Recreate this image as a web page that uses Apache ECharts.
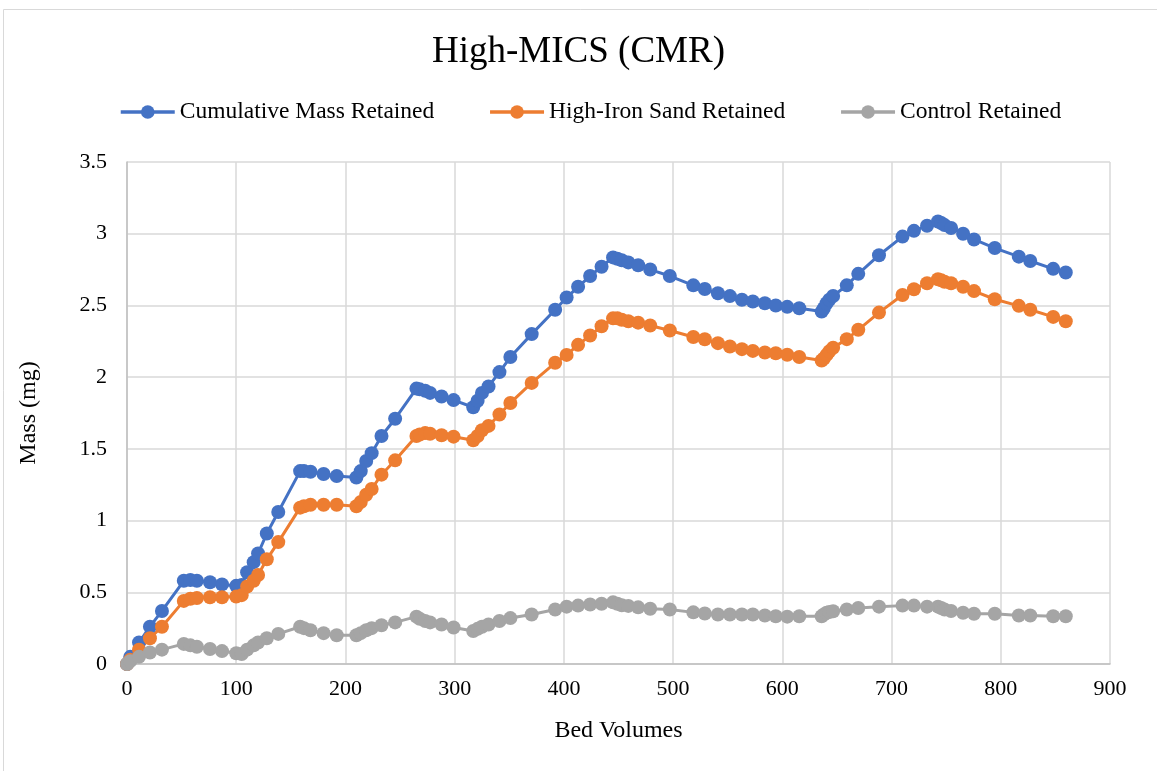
<!DOCTYPE html>
<html>
<head>
<meta charset="utf-8">
<title>High-MICS (CMR)</title>
<script src="https://cdn.jsdelivr.net/npm/echarts@6/dist/echarts.min.js"></script>
<style>
  html, body { margin: 0; padding: 0; background: #ffffff; }
  #chart { width: 1157px; height: 771px; }
</style>
</head>
<body>
<div id="chart"></div>
<script>
// Bed volumes at which each sample was taken
const bedVolumes = [0, 3, 11, 21, 32, 52, 58, 64, 76, 87, 100, 105, 110, 116, 120, 128, 138.5, 158.5, 162, 168, 180, 192, 210, 214, 219, 224, 233, 245.5, 265, 268, 273, 277.5, 288, 299, 317, 321, 325, 331, 341, 351, 370.5, 392, 402.5, 413, 424, 434.5, 445, 449, 453, 459, 468, 479, 497, 518.5, 529, 541, 552, 563, 573, 584, 594, 604.5, 615.5, 636, 638, 640.5, 643, 646.5, 659, 669.5, 688.5, 710, 720.5, 732.5, 742.5, 745.5, 748.5, 754.5, 765.5, 775.5, 794.5, 816.5, 827, 848, 859.5];

// Mass retained (mg)
const cumulativeMass = [0, 0.05, 0.15, 0.26, 0.37, 0.58, 0.585, 0.58, 0.57, 0.555, 0.545, 0.55, 0.64, 0.71, 0.77, 0.91, 1.06, 1.345, 1.345, 1.34, 1.325, 1.31, 1.30, 1.345, 1.415, 1.47, 1.59, 1.71, 1.92, 1.915, 1.905, 1.89, 1.865, 1.84, 1.79, 1.835, 1.89, 1.935, 2.035, 2.14, 2.30, 2.47, 2.555, 2.63, 2.705, 2.77, 2.835, 2.825, 2.815, 2.80, 2.78, 2.75, 2.705, 2.64, 2.615, 2.585, 2.565, 2.54, 2.527, 2.515, 2.50, 2.49, 2.48, 2.457, 2.48, 2.515, 2.54, 2.566, 2.64, 2.72, 2.85, 2.98, 3.02, 3.056, 3.085, 3.075, 3.06, 3.04, 3.00, 2.96, 2.90, 2.84, 2.81, 2.755, 2.73];

const highIronSand = [0, 0.03, 0.10, 0.18, 0.26, 0.44, 0.455, 0.46, 0.465, 0.465, 0.47, 0.48, 0.54, 0.58, 0.62, 0.73, 0.85, 1.09, 1.10, 1.11, 1.11, 1.11, 1.10, 1.13, 1.18, 1.22, 1.32, 1.42, 1.59, 1.60, 1.61, 1.605, 1.595, 1.585, 1.56, 1.59, 1.63, 1.66, 1.74, 1.82, 1.96, 2.10, 2.155, 2.225, 2.29, 2.355, 2.41, 2.41, 2.40, 2.39, 2.38, 2.36, 2.325, 2.28, 2.264, 2.237, 2.214, 2.195, 2.183, 2.172, 2.167, 2.156, 2.14, 2.116, 2.13, 2.155, 2.18, 2.205, 2.265, 2.33, 2.45, 2.573, 2.613, 2.655, 2.683, 2.675, 2.665, 2.655, 2.63, 2.60, 2.543, 2.497, 2.47, 2.42, 2.39];

const control = [0, 0.02, 0.05, 0.08, 0.10, 0.14, 0.13, 0.12, 0.105, 0.09, 0.075, 0.07, 0.10, 0.13, 0.15, 0.18, 0.21, 0.26, 0.25, 0.235, 0.215, 0.20, 0.20, 0.215, 0.235, 0.25, 0.27, 0.29, 0.33, 0.315, 0.30, 0.29, 0.275, 0.255, 0.23, 0.245, 0.26, 0.275, 0.30, 0.32, 0.345, 0.38, 0.40, 0.407, 0.415, 0.42, 0.43, 0.42, 0.41, 0.405, 0.395, 0.385, 0.38, 0.36, 0.352, 0.345, 0.345, 0.345, 0.345, 0.338, 0.333, 0.33, 0.333, 0.333, 0.345, 0.357, 0.362, 0.368, 0.38, 0.39, 0.40, 0.407, 0.407, 0.40, 0.40, 0.39, 0.38, 0.37, 0.357, 0.35, 0.35, 0.338, 0.338, 0.333, 0.333];

const seriesNames = ['Cumulative Mass Retained', 'High-Iron Sand Retained', 'Control Retained'];
const seriesColors = ['#4472C4', '#ED7D31', '#A5A5A5'];
const seriesValues = [cumulativeMass, highIronSand, control];

const FONT = '"Liberation Serif", "Times New Roman", serif';

const chart = echarts.init(document.getElementById('chart'), null, { renderer: 'canvas' });

const series = seriesNames.map((name, i) => ({
  name: name,
  type: 'line',
  data: bedVolumes.map((bv, j) => [bv, seriesValues[i][j]]),
  symbol: 'circle',
  symbolSize: 14,
  showSymbol: true,
  lineStyle: { width: 3, color: seriesColors[i] },
  itemStyle: { color: seriesColors[i] },
  emphasis: { disabled: true },
  animation: false
}));

chart.setOption({
  backgroundColor: '#ffffff',
  animation: false,
  graphic: [{
    type: 'rect',
    shape: { x: 3.5, y: 9.5, width: 1160, height: 765 },
    style: { fill: 'none', stroke: '#D9D9D9', lineWidth: 1 },
    silent: true,
    z: -10
  }],
  title: {
    text: 'High-MICS (CMR)',
    left: 'center',
    top: 29,
    textStyle: { fontFamily: FONT, fontSize: 37, fontWeight: 'normal', color: '#000000' }
  },
  legend: {
    data: seriesNames,
    top: 95,
    left: 114,
    itemWidth: 54,
    itemHeight: 17,
    itemGap: 54,
    lineStyle: { width: 3.5 },
    textStyle: { fontFamily: FONT, fontSize: 23.5, color: '#000000' }
  },
  grid: { left: 127, right: 47, top: 162, bottom: 107, containLabel: false },
  xAxis: {
    type: 'value',
    min: 0,
    max: 900,
    interval: 100,
    name: 'Bed Volumes',
    nameLocation: 'middle',
    nameGap: 55,
    nameTextStyle: { fontFamily: FONT, fontSize: 24, color: '#000000' },
    axisLine: { show: true, lineStyle: { color: '#BFBFBF', width: 1.5 } },
    axisTick: { show: false },
    axisLabel: { fontFamily: FONT, fontSize: 22, color: '#000000', margin: 14 },
    splitLine: { show: true, lineStyle: { color: '#D9D9D9', width: 1.5 } }
  },
  yAxis: {
    type: 'value',
    min: 0,
    max: 3.5,
    interval: 0.5,
    name: 'Mass (mg)',
    nameLocation: 'middle',
    nameGap: 86,
    nameRotate: 90,
    nameTextStyle: { fontFamily: FONT, fontSize: 24, color: '#000000' },
    axisLine: { show: true, lineStyle: { color: '#BFBFBF', width: 1.5 } },
    axisTick: { show: false },
    axisLabel: { fontFamily: FONT, fontSize: 22, color: '#000000', margin: 20 },
    splitLine: { show: true, lineStyle: { color: '#D9D9D9', width: 1.5 } }
  },
  series: series
});
</script>
</body>
</html>
